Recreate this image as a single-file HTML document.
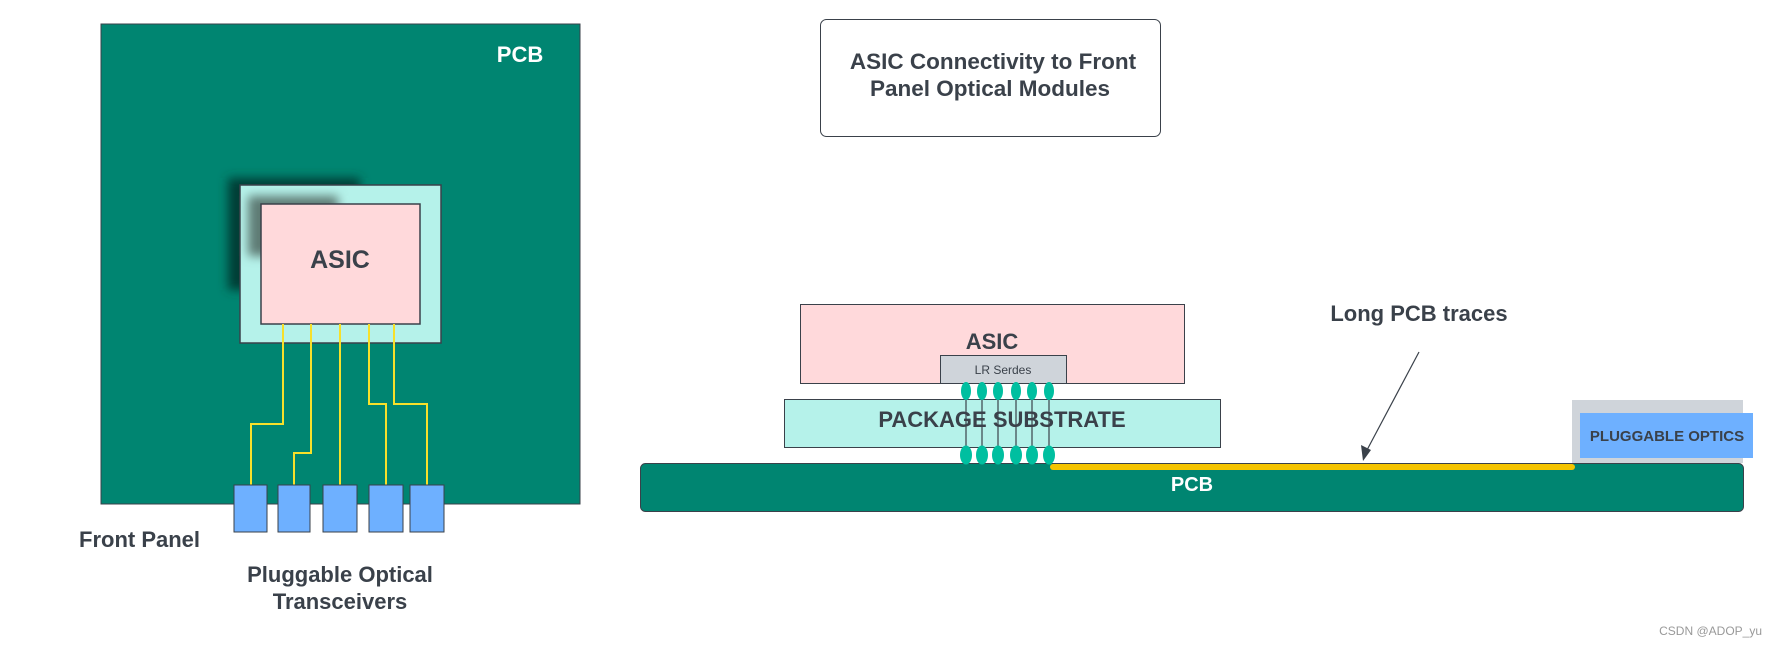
<!DOCTYPE html>
<html><head><meta charset="utf-8"><style>
body{margin:0;width:1776px;height:648px;background:#fff;overflow:hidden}
svg text{font-family:"Liberation Sans",sans-serif;font-weight:bold}
</style></head><body>
<svg width="1776" height="648" viewBox="0 0 1776 648" xmlns="http://www.w3.org/2000/svg">
<defs><filter id="b" x="-20%" y="-20%" width="140%" height="140%"><feGaussianBlur stdDeviation="5"/></filter></defs>
<rect x="101" y="24" width="479" height="480" fill="#008571" stroke="#3a414a" stroke-width="1"/>
<text x="520" y="62" fill="#fff" font-size="22" text-anchor="middle">PCB</text>
<rect x="228" y="178" width="132" height="112" fill="#003d34" filter="url(#b)"/>
<rect x="240" y="185" width="201" height="158" fill="#b5f2ea" stroke="#3a414a" stroke-width="1.5"/>
<rect x="248" y="196" width="90" height="60" fill="#5f7b74" filter="url(#b)"/>
<rect x="261" y="204" width="159" height="120" fill="#ffd9db" stroke="#3a414a" stroke-width="1.5"/>
<text x="340" y="268" fill="#3a414a" font-size="25" text-anchor="middle">ASIC</text>
<g fill="none" stroke="#f7e02a" stroke-width="2">
<polyline points="283,324 283,424 251,424 251,486"/>
<polyline points="311,324 311,453 294,453 294,486"/>
<polyline points="340,324 340,486"/>
<polyline points="369,324 369,404 386,404 386,486"/>
<polyline points="394,324 394,404 427,404 427,486"/>
</g>
<g fill="#6eb0ff" stroke="#3a414a" stroke-width="1">
<rect x="234" y="485" width="33" height="47"/>
<rect x="278" y="485" width="32" height="47"/>
<rect x="323" y="485" width="34" height="47"/>
<rect x="369" y="485" width="34" height="47"/>
<rect x="410" y="485" width="34" height="47"/>
</g>
<text x="79" y="547" fill="#3a414a" font-size="22">Front Panel</text>
<text x="340" y="582" fill="#3a414a" font-size="22" text-anchor="middle">Pluggable Optical</text>
<text x="340" y="609" fill="#3a414a" font-size="22" text-anchor="middle">Transceivers</text>
<rect x="820.5" y="19.5" width="340" height="117" rx="6" fill="#fff" stroke="#3a414a" stroke-width="1"/>
<text x="993" y="69" fill="#3a414a" font-size="22.5" text-anchor="middle">ASIC Connectivity to Front</text>
<text x="990" y="96" fill="#3a414a" font-size="22.5" text-anchor="middle">Panel Optical Modules</text>
<rect x="1572" y="400" width="171" height="63" fill="#cfd4da"/>
<rect x="1580" y="413" width="173" height="45" fill="#6eb0ff"/>
<text x="1667" y="441" fill="#3a414a" font-size="15" text-anchor="middle">PLUGGABLE OPTICS</text>
<rect x="800.5" y="304.5" width="384" height="79" fill="#ffd9db" stroke="#3a414a" stroke-width="1"/>
<text x="992" y="349" fill="#3a414a" font-size="22" text-anchor="middle">ASIC</text>
<rect x="940.5" y="355.5" width="126" height="28" fill="#cfd4da" stroke="#3a414a" stroke-width="1"/>
<text x="1003" y="374" fill="#3a414a" font-size="12" style="font-weight:normal" text-anchor="middle">LR Serdes</text>
<rect x="784.5" y="399.5" width="436" height="48" fill="#b5f2ea" stroke="#3a414a" stroke-width="1"/>
<text x="1002" y="427" fill="#3a414a" font-size="22" text-anchor="middle">PACKAGE SUBSTRATE</text>
<rect x="640.5" y="463.5" width="1103" height="48" rx="5" fill="#008571" stroke="#3a414a" stroke-width="1"/>
<text x="1192" y="491" fill="#fff" font-size="20" text-anchor="middle">PCB</text>
<line x1="1053" y1="467" x2="1572" y2="467" stroke="#f5c400" stroke-width="6" stroke-linecap="round"/>
<g stroke="#3a414a" stroke-width="1.2">
<line x1="966" y1="391" x2="966" y2="454"/><line x1="982" y1="391" x2="982" y2="454"/>
<line x1="998" y1="391" x2="998" y2="454"/><line x1="1016" y1="391" x2="1016" y2="454"/>
<line x1="1032" y1="391" x2="1032" y2="454"/><line x1="1049" y1="391" x2="1049" y2="454"/>
</g>
<g fill="#00bfa0">
<ellipse cx="966" cy="391" rx="5" ry="9"/><ellipse cx="982" cy="391" rx="5" ry="9"/><ellipse cx="998" cy="391" rx="5" ry="9"/>
<ellipse cx="1016" cy="391" rx="5" ry="9"/><ellipse cx="1032" cy="391" rx="5" ry="9"/><ellipse cx="1049" cy="391" rx="5" ry="9"/>
<ellipse cx="966" cy="455" rx="6" ry="9.5"/><ellipse cx="982" cy="455" rx="6" ry="9.5"/><ellipse cx="998" cy="455" rx="6" ry="9.5"/>
<ellipse cx="1016" cy="455" rx="6" ry="9.5"/><ellipse cx="1032" cy="455" rx="6" ry="9.5"/><ellipse cx="1049" cy="455" rx="6" ry="9.5"/>
</g>
<text x="1419" y="321" fill="#3a414a" font-size="22" text-anchor="middle">Long PCB traces</text>
<line x1="1419" y1="352" x2="1367" y2="450" stroke="#3a414a" stroke-width="1.2"/>
<polygon points="1363,461 1361,445 1371,450" fill="#3a414a"/>
<text x="1762" y="635" fill="#999" font-size="12" style="font-weight:normal" text-anchor="end">CSDN @ADOP_yu</text>
</svg>
</body></html>
